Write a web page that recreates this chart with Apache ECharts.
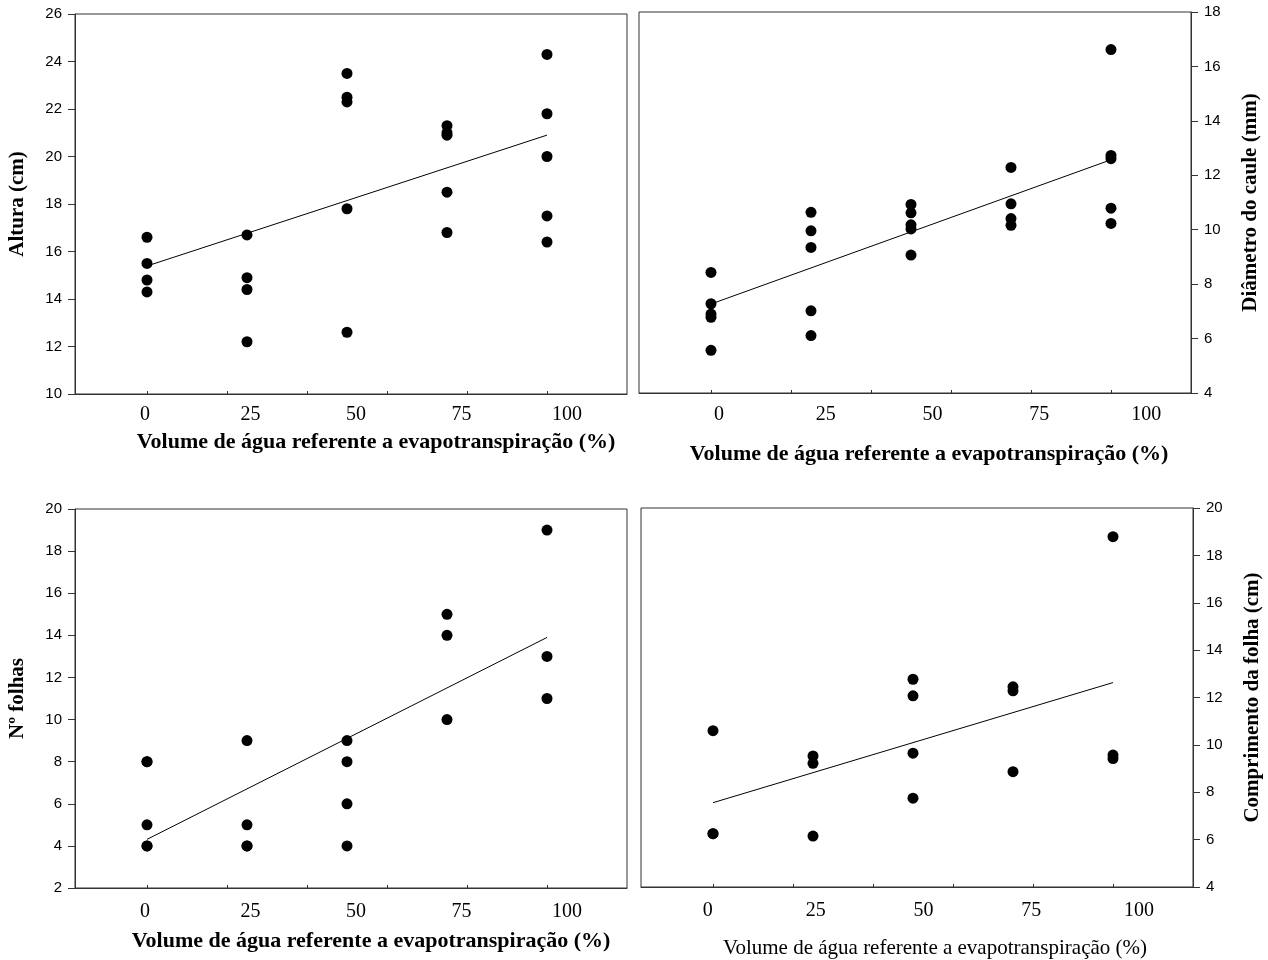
<!DOCTYPE html>
<html>
<head>
<meta charset="utf-8">
<script src="https://cdn.jsdelivr.net/npm/echarts@6/dist/echarts.min.js"></script>
<style>
  html, body { margin: 0; background: #fff; }
  #chart { width: 1268px; height: 960px; }
</style>
</head>
<body>
<div id="chart"></div>
<script>
// níveis de água (% da evapotranspiração)
var doses = [0, 25, 50, 75, 100];
var xLabelValues = [0, 25, 50, 75, 100];
var xTickValues = [0, 20, 40, 60, 80, 100];

// pontos observados, um grupo por nível de água
var alturaPts = [[16.6, 15.5, 14.8, 14.3], [16.7, 14.9, 14.4, 12.2], [23.5, 22.5, 22.3, 17.8, 12.6], [21.3, 21.0, 20.9, 18.5, 16.8], [24.3, 21.8, 20.0, 17.5, 16.4]];
var diametroPts = [[8.43, 7.28, 6.90, 6.78, 5.57], [10.64, 9.96, 9.35, 7.02, 6.11], [10.93, 10.62, 10.18, 10.03, 9.07], [12.29, 10.95, 10.41, 10.16], [16.62, 12.73, 12.61, 10.79, 10.23]];
var folhasPts = [[8, 8, 5, 4, 4], [9, 5, 4, 4], [9, 8, 6, 4], [15, 14, 10], [19, 13, 11]];
var comprimentoPts = [[10.6, 6.25, 6.25], [9.53, 9.22, 6.15], [12.77, 12.07, 9.65, 7.75], [12.45, 12.28, 8.87], [18.79, 9.57, 9.42]];

// retas ajustadas (valor em 0 e em 100)
var alturaFit = [15.39, 20.9];
var diametroFit = [7.27, 12.57];
var folhasFit = [4.31, 13.9];
var comprimentoFit = [7.56, 12.63];

var xTitle = 'Volume de água referente a evapotranspiração (%)';

function toPairs(groups) {
  var out = [];
  groups.forEach(function (g, i) {
    g.forEach(function (v) { out.push([doses[i], v]); });
  });
  return out;
}

function fitLine(ends) {
  return [[doses[0], ends[0]], [doses[doses.length - 1], ends[1]]];
}

var panels = [
  { grid: { left: 75, top: 14, width: 552, height: 380 }, yMin: 10, yMax: 26, yPos: 'left', yName: 'Altura (cm)',
    labelMin: -16.6, labelMax: 114.2, labelMargin: 11, nameGap: 37, namePad: 50, bold: true, pts: alturaPts, fit: alturaFit },
  { grid: { left: 639, top: 12, width: 552, height: 381 }, yMin: 4, yMax: 18, yPos: 'right', yName: 'Diâmetro do caule (mm)',
    labelMin: -18.7, labelMax: 110.5, labelMargin: 12, nameGap: 50, namePad: 28, bold: true, pts: diametroPts, fit: diametroFit },
  { grid: { left: 75, top: 509, width: 552, height: 379 }, yMin: 2, yMax: 20, yPos: 'left', yName: 'Nº folhas',
    labelMin: -16.6, labelMax: 114.2, labelMargin: 14, nameGap: 42, namePad: 40, bold: true, pts: folhasPts, fit: folhasFit },
  { grid: { left: 641, top: 508, width: 552, height: 380 }, yMin: 4, yMax: 20, yPos: 'right', yName: 'Comprimento da folha (cm)',
    labelMin: -15.5, labelMax: 112.5, labelMargin: 14, nameGap: 51, namePad: 36, bold: false, pts: comprimentoPts, fit: comprimentoFit }
];

var option = { animation: false, backgroundColor: '#fff', grid: [], xAxis: [], yAxis: [], series: [] };

panels.forEach(function (p, i) {
  option.grid.push(Object.assign({ show: true, borderColor: '#333', borderWidth: 1, backgroundColor: 'transparent' }, p.grid));

  // eixo dos dados (só traços pequenos)
  option.xAxis.push({
    type: 'value', gridIndex: i, min: -18, max: 120, position: 'bottom',
    axisLine: { show: true, onZero: false, lineStyle: { color: '#333', width: 1 } },
    axisTick: { show: true, inside: true, length: 3, customValues: xTickValues, lineStyle: { color: '#333' } },
    axisLabel: { show: false },
    splitLine: { show: false }
  });
  // eixo só para os rótulos 0-100
  option.xAxis.push({
    type: 'value', gridIndex: i, min: p.labelMin, max: p.labelMax, position: 'bottom',
    axisLine: { show: false, onZero: false }, axisTick: { show: false }, splitLine: { show: false },
    axisLabel: { show: true, customValues: xLabelValues, margin: p.labelMargin,
      fontFamily: 'Liberation Serif', fontSize: 20, color: '#000' },
    name: xTitle, nameLocation: 'middle', nameGap: p.nameGap,
    nameTextStyle: { fontFamily: 'Liberation Serif', fontSize: p.bold ? 22 : 21, fontWeight: p.bold ? 'bold' : 'normal',
      color: '#000', padding: [0, 0, 0, p.namePad] }
  });

  option.yAxis.push({
    type: 'value', gridIndex: i, min: p.yMin, max: p.yMax, interval: 2, position: p.yPos,
    axisLine: { show: true, onZero: false, lineStyle: { color: '#333', width: 1 } },
    axisTick: { show: true, inside: false, length: 7, lineStyle: { color: '#333' } },
    axisLabel: { margin: 13, fontFamily: 'Liberation Sans', fontSize: 15, color: '#000' },
    splitLine: { show: false },
    name: p.yName, nameLocation: 'middle', nameRotate: 90, nameGap: p.yPos === 'left' ? 47 : 49,
    nameTextStyle: { fontFamily: 'Liberation Serif', fontSize: 21, fontWeight: 'bold', color: '#000' }
  });

  option.series.push({
    type: 'scatter', xAxisIndex: i * 2, yAxisIndex: i,
    symbol: 'circle', symbolSize: 11, itemStyle: { color: '#000', opacity: 1 },
    data: toPairs(p.pts)
  });
  option.series.push({
    type: 'line', xAxisIndex: i * 2, yAxisIndex: i,
    symbol: 'none', lineStyle: { color: '#000', width: 1 },
    data: fitLine(p.fit)
  });
});

var chart = echarts.init(document.getElementById('chart'));
chart.setOption(option);
</script>
</body>
</html>
